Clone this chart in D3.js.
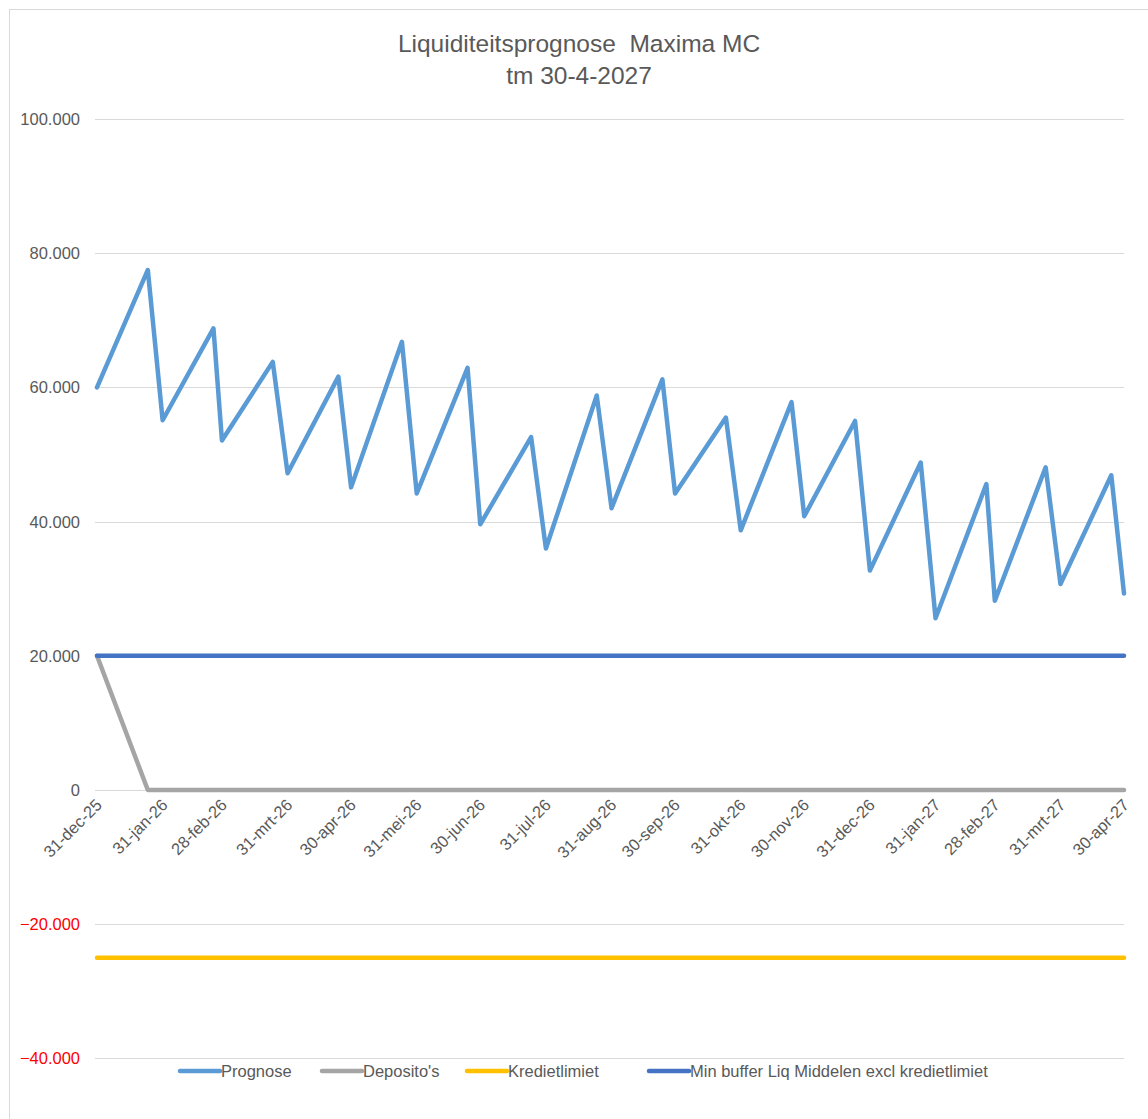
<!DOCTYPE html>
<html><head><meta charset="utf-8">
<script src="https://cdn.jsdelivr.net/npm/d3@7"></script>
<style>
html,body{margin:0;padding:0;background:#fff;}
text{font-family:"Liberation Sans",Arial,sans-serif;}
</style></head>
<body>
<svg id="chart" width="1148" height="1119"></svg>
<script>
// ---- data ----
const dates = ["2025-12-31","2026-01-24","2026-01-31","2026-02-24","2026-02-28","2026-03-24","2026-03-31",
  "2026-04-24","2026-04-30","2026-05-24","2026-05-31","2026-06-24","2026-06-30","2026-07-24","2026-07-31",
  "2026-08-24","2026-08-31","2026-09-24","2026-09-30","2026-10-24","2026-10-31","2026-11-24","2026-11-30",
  "2026-12-24","2026-12-31","2027-01-24","2027-01-31","2027-02-24","2027-02-28","2027-03-24","2027-03-31",
  "2027-04-24","2027-04-30"];
const prognose = [60000,77500,55100,68800,52100,63800,47200,61600,45100,66800,44200,62900,39600,52600,36000,
  58800,42000,61200,44200,55500,38700,57800,40800,55000,32700,48800,25600,45600,28200,48100,30700,46900,29300];
const depositos = [20000,0,0,0,0,0,0,0,0,0,0,0,0,0,0,0,0,0,0,0,0,0,0,0,0,0,0,0,0,0,0,0,0];
const kredietlimiet = dates.map(() => -25000);
const minBuffer = dates.map(() => 20000);
const tickDates = ["2025-12-31","2026-01-31","2026-02-28","2026-03-31","2026-04-30","2026-05-31","2026-06-30",
  "2026-07-31","2026-08-31","2026-09-30","2026-10-31","2026-11-30","2026-12-31","2027-01-31","2027-02-28",
  "2027-03-31","2027-04-30"];
const tickLabels = ["31-dec-25","31-jan-26","28-feb-26","31-mrt-26","30-apr-26","31-mei-26","30-jun-26",
  "31-jul-26","31-aug-26","30-sep-26","31-okt-26","30-nov-26","31-dec-26","31-jan-27","28-feb-27",
  "31-mrt-27","30-apr-27"];
const yTicks = [-40000,-20000,0,20000,40000,60000,80000,100000];
const seriesNames = ["Prognose","Deposito's","Kredietlimiet","Min buffer Liq Middelen excl kredietlimiet"];
const seriesColors = ["#5b9bd5","#a5a5a5","#ffc000","#4472c4"];
const titleLines = ["Liquiditeitsprognose  Maxima MC","tm 30-4-2027"];

// ---- chart ----
const svg = d3.select("#chart");
const parse = d3.utcParse("%Y-%m-%d");
const x = d3.scaleUtc().domain([parse(dates[0]), parse(dates[dates.length-1])]).range([97,1124]);
const y = d3.scaleLinear().domain([-40000,100000]).range([1058.4,119]);

svg.append("rect").attr("x",9.5).attr("y",9.5).attr("width",1150).attr("height",1120)
  .attr("fill","#fff").attr("stroke","#d9d9d9");

// title
svg.append("text").attr("x",579).attr("y",52).attr("text-anchor","middle").attr("font-size",24.5)
  .attr("fill","#595959").style("white-space","pre").text(titleLines[0]);
svg.append("text").attr("x",579).attr("y",84).attr("text-anchor","middle").attr("font-size",24.5)
  .attr("fill","#595959").text(titleLines[1]);

// gridlines
svg.append("g").selectAll("line").data(yTicks).join("line")
  .attr("x1",95).attr("x2",1124).attr("y1",d=>Math.round(y(d))+0.5).attr("y2",d=>Math.round(y(d))+0.5)
  .attr("stroke","#d9d9d9").attr("stroke-width",1);

// y labels
const fmt = d3.formatLocale({decimal:",",thousands:".",grouping:[3],currency:["€",""]}).format(",.0f");
svg.append("g").selectAll("text").data(yTicks).join("text")
  .attr("x",80).attr("y",d=>y(d)+6).attr("text-anchor","end").attr("font-size",16.5)
  .attr("fill",d=>d<0?"#ff0000":"#595959").text(d=>fmt(d));

// x labels
svg.append("g").selectAll("text").data(tickDates).join("text")
  .attr("transform",(d)=>`translate(${x(parse(d))+6},${806}) rotate(-45)`)
  .attr("text-anchor","end").attr("font-size",16.5).attr("fill","#595959")
  .text((d,i)=>tickLabels[i]);

// lines
const allSeries = [prognose, depositos, kredietlimiet, minBuffer];
const line = d3.line().x((d,i)=>x(parse(dates[i]))).y(d=>y(d));
allSeries.forEach((s,k)=>{
  svg.append("path").datum(s).attr("d",line).attr("fill","none")
    .attr("stroke",seriesColors[k]).attr("stroke-width",4.5)
    .attr("stroke-linejoin","round").attr("stroke-linecap","round");
});

// legend
const legendX = [180,322,467,649];
const lg = svg.append("g");
seriesNames.forEach((n,k)=>{
  lg.append("line").attr("x1",legendX[k]).attr("x2",legendX[k]+40).attr("y1",1071).attr("y2",1071)
    .attr("stroke",seriesColors[k]).attr("stroke-width",4.5).attr("stroke-linecap","round");
  lg.append("text").attr("x",legendX[k]+41).attr("y",1077).attr("font-size",16.5)
    .attr("fill","#595959").text(n);
});
</script>
</body></html>
